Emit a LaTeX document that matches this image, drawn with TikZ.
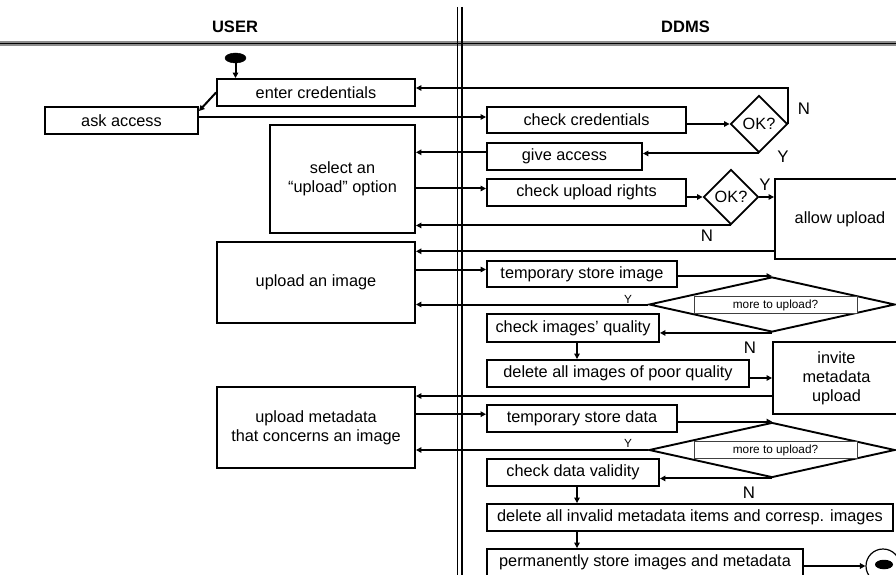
\documentclass[tikz,border=0pt]{standalone}
\usepackage{fontspec}
\setmainfont{Liberation Sans}
\usetikzlibrary{arrows.meta,shapes.geometric}
\begin{document}
\begin{tikzpicture}[x=1bp,y=-1bp,
  box/.style={draw,line width=1.9bp,inner sep=0pt,align=center,font=\fontsize{16.3bp}{19bp}\selectfont},
  dia/.style={draw,diamond,line width=1.9bp,inner sep=0pt,aspect=1,font=\fontsize{16.3bp}{19bp}\selectfont},
  wdia/.style={draw,diamond,line width=1.9bp,inner sep=0pt,minimum width=246bp,minimum height=55bp},
  tbox/.style={draw=black!75,fill=white,line width=0.9bp,inner sep=0pt,minimum width=163bp,minimum height=16.5bp,font=\fontsize{11.8bp}{13bp}\selectfont},
  lab/.style={font=\fontsize{16.8bp}{19bp}\selectfont,inner sep=0pt},
  slab/.style={font=\fontsize{11.8bp}{13bp}\selectfont,inner sep=0pt},
  head/.style={font=\bfseries\fontsize{16.5bp}{19bp}\selectfont,inner sep=0pt},
  con/.style={line width=2bp,-{Triangle[length=5.5bp,width=5.5bp]}},
  lin/.style={line width=2bp}]
\useasboundingbox (0,0) rectangle (896,575);
\clip (0,0) rectangle (896,575);
% swimlanes
\node[head] (huser) at (235,27) {USER};
\node[head] (hddms) at (685.5,27) {DDMS};
\draw[line width=5bp,black!45] (0,43.4) -- (896,43.4);
\draw[line width=1.3bp] (0,43.4) -- (896,43.4);
\draw[line width=1.4bp] (457.6,7) -- (457.6,576);
\draw[line width=1.4bp] (461.8,7) -- (461.8,576);
% helper levels
\coordinate (L88) at (0,88);
\coordinate (L117) at (0,117);
\coordinate (L152) at (0,152.3);
\coordinate (L188) at (0,188.5);
\coordinate (L251) at (0,251.3);
\coordinate (L269) at (0,269.5);
\coordinate (L396) at (0,396);
\coordinate (L414) at (0,414.2);
\coordinate (X577) at (577,0);
% start / end
\node[draw,fill=black,ellipse,minimum width=21bp,minimum height=10bp,inner sep=0pt] (start) at (235.5,58) {};
\node[draw,circle,line width=1.2bp,minimum size=34bp,inner sep=0pt] (end) at (883,566) {};
\node[fill=black,ellipse,minimum width=18bp,minimum height=9.5bp,inner sep=0pt] (endin) at (884,564.5) {};
% USER boxes
\node[box,minimum width=198bp,minimum height=27bp] (enter) at (316,92.5) {enter credentials};
\node[box,minimum width=153bp,minimum height=27bp] (ask) at (121.5,120.5) {ask access};
\node[box,minimum width=145bp,minimum height=108bp] (select) at (342.5,179) {select an\\“upload” option};
\node[box,minimum width=198bp,minimum height=81bp] (upimg) at (316,282.5) {upload an image};
\node[box,minimum width=198bp,minimum height=81bp] (upmeta) at (316,427.5) {upload metadata\\that concerns an image};
% DDMS boxes
\node[box,minimum width=199bp,minimum height=26bp] (checkcred) at (586.5,120) {check credentials};
\node[box,minimum width=155bp,minimum height=27bp] (give) at (564.5,156.5) {give access};
\node[box,minimum width=199bp,minimum height=27bp] (checkup) at (586.5,192.5) {check upload rights};
\node[box,minimum width=130bp,minimum height=80bp] (allow) at (840,219) {allow upload};
\node[box,minimum width=190bp,minimum height=26bp] (tsi) at (582,274) {temporary store image};
\node[box,minimum width=172bp,minimum height=28bp] (checkq) at (573,328) {check images’ quality};
\node[box,minimum width=262bp,minimum height=27bp] (delpoor) at (618,373.5) {delete all images of poor quality};
\node[box,minimum width=127bp,minimum height=72bp] (invite) at (836.5,378) {invite\\metadata\\upload};
\node[box,minimum width=190bp,minimum height=27bp] (tsd) at (582,418.5) {temporary store data};
\node[box,minimum width=172bp,minimum height=27bp] (checkval) at (573,472.5) {check data validity};
\node[box,minimum width=406bp,minimum height=27bp] (delinv) at (690,517.5) {delete all invalid metadata items and corresp. images};
\node[box,minimum width=316bp,minimum height=27bp] (perm) at (645,562.5) {permanently store images and metadata};
% decisions
\node[dia,minimum width=57bp,minimum height=57bp] (ok1) at (759,124) {OK?};
\node[dia,minimum width=55bp,minimum height=55bp] (ok2) at (731,197) {OK?};
\node[wdia] (more1) at (772,304.5) {};
\node[tbox] (more1t) at (775.5,305) {more to upload?};
\node[wdia] (more2) at (772,450) {};
\node[tbox] (more2t) at (775.5,450) {more to upload?};
% labels
\node[lab] (n1) at (804,109) {N};
\node[lab] (y1) at (783,157) {Y};
\node[lab] (y2) at (765,185) {Y};
\node[lab] (n2) at (707,236) {N};
\node[slab] (y3) at (628,299) {Y};
\node[lab] (n3) at (750,348) {N};
\node[slab] (y4) at (628,443) {Y};
\node[lab] (n4) at (749,493) {N};
% connectors
\draw[con] (start.south) -- (start |- enter.north);
\draw[con] (enter.west) -- ([yshift=-5bp]ask.north east);
\draw[con] (ask.east |- L117) -- (checkcred.west |- L117);
\draw[con] (checkcred.east |- ok1) -- (ok1.west);
\draw[con] (ok1.east) -- (ok1.east |- L88) -- (enter.east |- L88);
\draw[con] (ok1.south) -- (give.east |- ok1.south);
\draw[con] (give.west |- L152) -- (select.east |- L152);
\draw[con] (select.east |- L188) -- (checkup.west |- L188);
\draw[con] (checkup.east |- ok2) -- (ok2.west);
\draw[con] (ok2.east) -- (allow.west |- ok2);
\draw[con] (ok2.south) -- (select.east |- ok2.south);
\draw[con] (allow.west |- L251) -- (upimg.east |- L251);
\draw[con] (upimg.east |- L269) -- (tsi.west |- L269);
\draw[con] (tsi.east |- more1.north) -- (more1.north);
\draw[con] (more1.west) -- (upimg.east |- more1.west);
\draw[con] (more1.south) -- (checkq.east |- more1.south);
\draw[con] (checkq.south -| X577) -- (delpoor.north -| X577);
\draw[con] (delpoor.east |- invite) -- (invite.west);
\draw[con] (invite.west |- L396) -- (upmeta.east |- L396);
\draw[con] (upmeta.east |- L414) -- (tsd.west |- L414);
\draw[con] (tsd.east |- more2.north) -- (more2.north);
\draw[con] (more2.west) -- (upmeta.east |- more2.west);
\draw[con] (more2.south) -- (checkval.east |- more2.south);
\draw[con] (checkval.south -| X577) -- (delinv.north -| X577);
\draw[con] (delinv.south -| X577) -- (perm.north -| X577);
\draw[con] (perm.east |- end) -- (end.west);
\end{tikzpicture}
\end{document}
